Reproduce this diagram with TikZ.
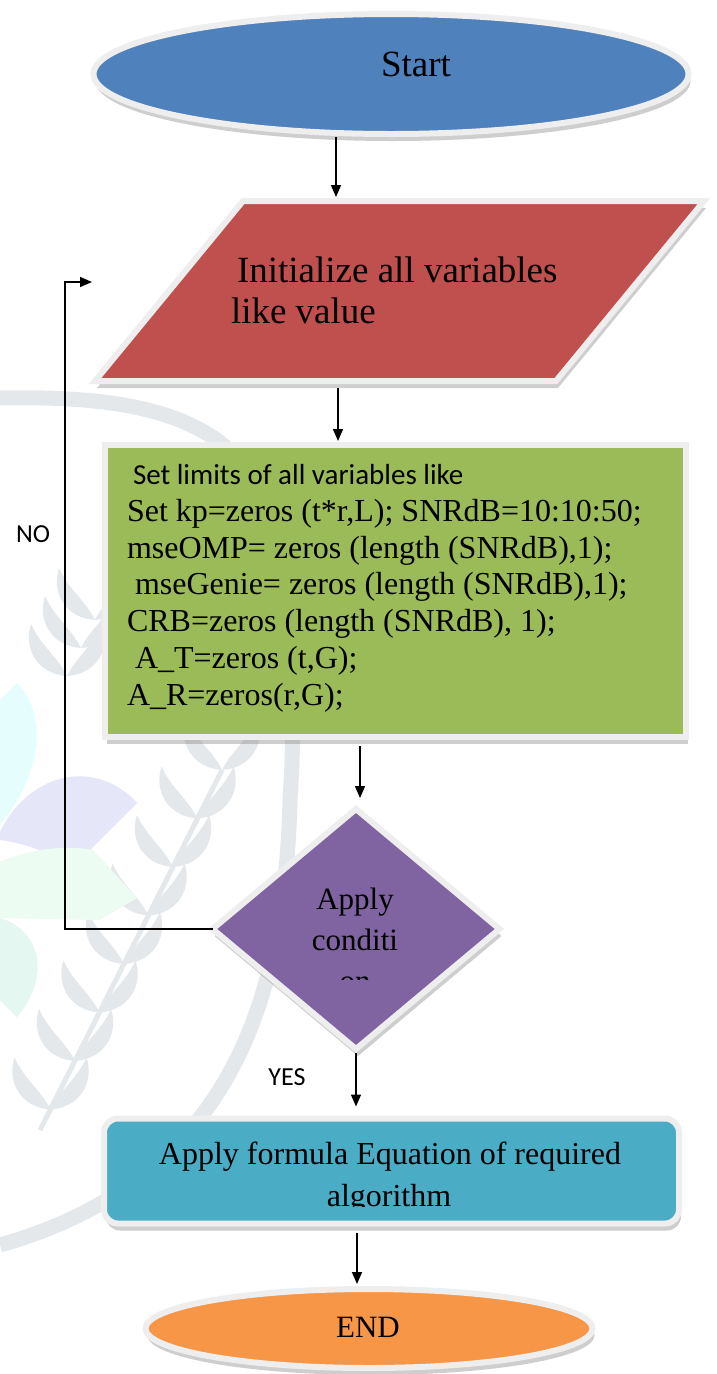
\documentclass[tikz,border=0pt]{standalone}
\usepackage{fontspec}
\setmainfont{Liberation Serif}
\newfontfamily\calib{Carlito}
\usetikzlibrary{shapes.geometric,arrows.meta,calc,shadows}
\definecolor{cblue}{HTML}{4F81BD}
\definecolor{cred}{HTML}{C0504D}
\definecolor{cgreen}{HTML}{9BBB59}
\definecolor{cpurple}{HTML}{8064A2}
\definecolor{caqua}{HTML}{4BACC6}
\definecolor{corange}{HTML}{F79646}
\definecolor{glowc}{HTML}{EEEEEE}
\definecolor{wmc}{HTML}{E5E8EB}
\definecolor{wmcyan}{HTML}{E6FDFD}
\definecolor{wmlav}{HTML}{E5E6F8}
\definecolor{wmmint}{HTML}{EDFCF2}
\definecolor{wmmint2}{HTML}{E4F8F1}
\begin{document}
\begin{tikzpicture}[x=1pt,y=-1pt,
  shapebox/.style={draw=glowc, line width=6pt, inner sep=0pt, outer sep=0pt},
  shad/.style={drop shadow={shadow xshift=2pt, shadow yshift=-7pt, fill=black!55, opacity=0.35}},
  arr/.style={line width=1.6pt, -{Triangle[length=12pt,width=10pt]}},
  loopline/.style={line width=1.4pt, -{Triangle[length=12pt,width=10pt]}},
  txt/.style={inner sep=0pt, outer sep=0pt},
  ser/.style={txt, font=\fontsize{31}{41}\selectfont},
  lbl/.style={txt, font=\calib\fontsize{26}{30}\selectfont},
  leafR/.pic={\fill[wmc] (0,0) .. controls (30,-2) and (44,-28) .. (36,-52) .. controls (26,-30) and (10,-20) .. (0,0) -- cycle;}
]
\useasboundingbox (0,0) rectangle (717,1374);
\fill[white] (0,0) rectangle (717,1374);

% ---- faint watermark ----
\draw[wmc, line width=15pt] (0,398) .. controls (150,395) and (255,420) .. (275,540)
   .. controls (295,650) and (295,720) .. (290,800)
   .. controls (285,1000) and (230,1180) .. (0,1245);
\draw[wmc, line width=5pt] (222,770) -- (40,1130);
\foreach \i in {0,...,7}{
  \begin{scope}[shift={(222-24.5*\i,770+48.5*\i)}, rotate=-27, scale=1.2+0.12*\i]
    \pic {leafR};
    \pic[xscale=-1] {leafR};
  \end{scope}
}
\foreach \i in {0,1,2}{
  \begin{scope}[shift={(95-14*\i,620+28*\i)}, rotate=-27, scale=0.8]
    \pic {leafR};
    \pic[xscale=-1] {leafR};
  \end{scope}
}
\fill[wmcyan] (0,700) -- (17,683) .. controls (40,705) and (52,760) .. (0,825) -- cycle;
\fill[wmlav] (0,832) .. controls (20,790) and (60,770) .. (95,778) .. controls (115,782) and (130,795) .. (137,803) -- (73,867) .. controls (50,852) and (20,842) .. (0,840) -- cycle;
\fill[wmmint] (0,862) .. controls (30,848) and (70,845) .. (93,850) -- (137,898) -- (100,920) -- (0,918) -- cycle;
\fill[wmmint2] (0,918) .. controls (40,930) and (52,975) .. (17,1017) -- (0,1000) -- cycle;

% Start
\node[shapebox, ellipse, fill=cblue, minimum width=595, minimum height=120, shad] (start) at (391,74) {};
\node[txt, font=\fontsize{37}{44}\selectfont, anchor=base] (starttxt) at (416,76) {Start};

% Parallelogram
\draw[draw=glowc, line width=6pt, fill=cred, shad] (243,201) -- (704,201) -- (556,381) -- (95,381) -- cycle;
\node[txt, font=\fontsize{37}{41}\selectfont, anchor=base west, align=left] (par) at (231,323) {\hspace{6pt}Initialize all variables\\like value};
\coordinate (parT) at (336,197);
\coordinate (parB) at (338,388);

% Green box
\node[shapebox, rectangle, fill=cgreen, minimum width=581, minimum height=292, shad] (lim) at (395,591) {};
\node[txt, font=\fontsize{32}{36.7}\selectfont, anchor=base west, align=left] (limtxt) at (127,705)
 {{\calib\fontsize{29}{36.7}\selectfont\hspace{6pt}Set limits of all variables like}\\
  Set kp=zeros (t*r,L); SNRdB=10:10:50;\\
  mseOMP= zeros (length (SNRdB),1);\\
  \hspace{8pt}mseGenie= zeros (length (SNRdB),1);\\
  CRB=zeros (length (SNRdB), 1);\\
  \hspace{8pt}A\_T=zeros (t,G);\\
  A\_R=zeros(r,G);};

% Diamond
\node[shapebox, diamond, aspect=1.2, fill=cpurple, minimum width=287, minimum height=240, shad] (dia) at (356,929) {};
\node[ser, anchor=base, align=center] (diatxt) at (355,950) {Apply\\conditi};
\begin{scope}
\clip (230,960) rectangle (480,979);
\node[ser, anchor=base] (diaon) at (355,991) {on};
\end{scope}

% Aqua box
\node[shapebox, rectangle, rounded corners=14pt, fill=caqua, minimum width=575, minimum height=105, shad] (form) at (391.5,1171) {};
\node[txt, font=\fontsize{32}{41}\selectfont, anchor=base] (formtxt) at (390,1164) {Apply formula Equation of required};
\begin{scope}
\clip (110,1172) rectangle (680,1206.5);
\node[txt, font=\fontsize{32}{41}\selectfont, anchor=base] (formtxt2) at (389,1206) {algorithm};
\end{scope}

% End
\node[shapebox, ellipse, fill=corange, minimum width=447, minimum height=79, shad] (endn) at (369,1328.5) {};
\node[ser, anchor=base] (endtxt) at (368,1337) {END};

% Connectors
\draw[arr, shorten <=3pt] (start.south -| parT) -- (parT);
\draw[arr, shorten >=4pt] (parB) -- (lim.north -| parB);
\coordinate (a3) at ($(dia.north)+(4,0)$);
\draw[arr, shorten <=9pt, shorten >=11pt] (lim.south -| a3) -- (a3);
\draw[arr, shorten <=4pt, shorten >=12pt] (dia.south) -- (form.north -| dia.south);
\coordinate (e5) at ($(endn.north)+(-12,0)$);
\draw[arr, shorten <=9pt, shorten >=5pt] (e5 |- form.south) -- (e5);
\coordinate (noend) at (92,282);
\draw[loopline] (dia.west) -| ($(noend)+(-27,0)$) -- (noend);

\node[lbl, anchor=base] (no) at (33,542) {NO};
\node[lbl, anchor=base] (yes) at (287,1085) {YES};
\end{tikzpicture}
\end{document}
